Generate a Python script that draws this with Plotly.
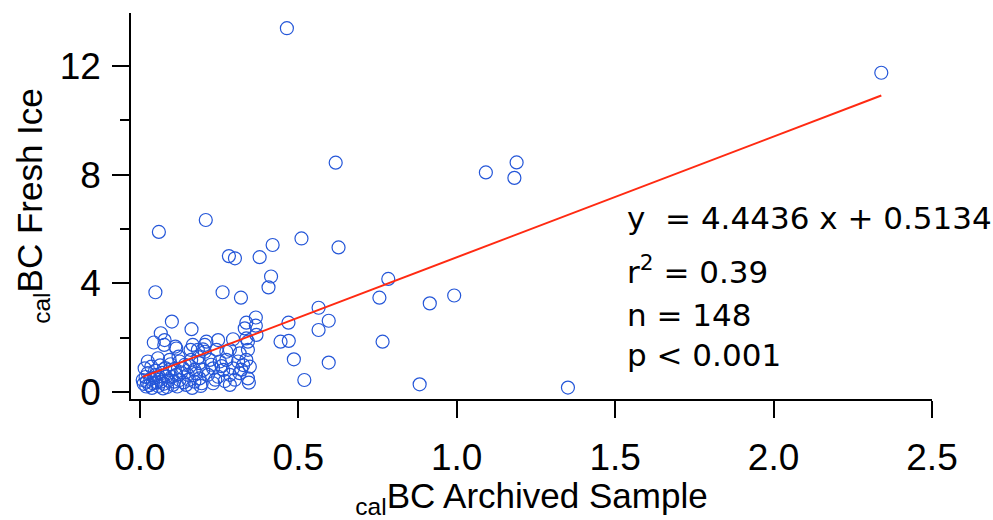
import plotly.graph_objects as go

# Archived sample (x) vs fresh ice (y) calBC values
x_archived = [
    0.464, 2.340, 0.618, 1.092, 1.189, 1.182, 0.060, 0.208, 0.281, 0.300,
    0.378, 0.419, 0.510, 0.627, 0.414, 0.406, 0.049, 0.261, 0.319, 0.784,
    0.756, 0.564, 0.596, 0.564, 0.469, 0.444, 0.470, 0.766, 0.486, 0.596,
    0.519, 0.915, 0.992, 0.883, 1.351, 0.101, 0.163, 0.066, 0.044, 0.077,
    0.366, 0.336, 0.331, 0.366, 0.368, 0.247, 0.294, 0.341, 0.205, 0.112,
    0.160, 0.199, 0.273, 0.341,
    0.078, 0.115, 0.167, 0.183, 0.025, 0.057, 0.094, 0.125, 0.162, 0.094,
    0.136, 0.172, 0.188, 0.009, 0.020, 0.041, 0.067, 0.073, 0.104, 0.125,
    0.146, 0.172, 0.025, 0.051, 0.083, 0.115, 0.151, 0.188, 0.036, 0.015,
    0.336, 0.210, 0.205, 0.242, 0.284, 0.315, 0.221, 0.252, 0.273, 0.310,
    0.336, 0.347, 0.326, 0.294, 0.263, 0.231, 0.200, 0.215, 0.247, 0.284,
    0.315, 0.341, 0.195, 0.231, 0.284, 0.344,
    0.012, 0.018, 0.022, 0.030, 0.033, 0.038, 0.045, 0.048, 0.053, 0.058,
    0.062, 0.064, 0.070, 0.075, 0.080, 0.086, 0.090, 0.097, 0.100, 0.108,
    0.110, 0.118, 0.122, 0.130, 0.138, 0.142, 0.155, 0.158, 0.165, 0.178,
    0.185, 0.192, 0.225, 0.238, 0.258, 0.268, 0.300, 0.320,
]
y_fresh = [
    13.39, 11.75, 8.44, 8.08, 8.45, 7.88, 5.89, 6.33, 5.00, 4.92,
    4.96, 5.41, 5.65, 5.32, 4.25, 3.85, 3.67, 3.67, 3.47, 4.16,
    3.47, 3.10, 2.62, 2.28, 2.55, 1.85, 1.88, 1.85, 1.20, 1.08,
    0.44, 3.26, 3.55, 0.28, 0.16, 2.59, 2.31, 2.16, 1.82, 1.73,
    2.74, 2.55, 2.34, 2.44, 2.10, 1.91, 1.94, 1.85, 1.73, 1.67,
    1.55, 1.57, 1.48, 1.55,
    1.91, 1.60, 1.73, 1.55, 1.12, 1.24, 1.18, 1.12, 1.18, 0.81,
    0.87, 0.81, 1.06, 0.44, 0.20, 0.32, 0.38, 0.13, 0.26, 0.44,
    0.26, 0.38, 0.69, 0.63, 0.56, 0.63, 0.63, 0.50, 0.93, 0.87,
    1.97, 1.85, 1.48, 1.55, 1.55, 1.42, 1.18, 1.12, 1.18, 1.12,
    1.18, 0.93, 0.99, 0.87, 0.81, 0.87, 0.81, 0.63, 0.56, 0.63,
    0.69, 0.50, 0.32, 0.32, 0.26, 0.34,
    0.30, 0.55, 0.38, 0.25, 0.48, 0.15, 0.52, 0.78, 0.35, 0.22,
    0.45, 0.98, 0.70, 0.30, 0.88, 0.18, 0.42, 1.02, 0.55, 0.38,
    0.85, 0.20, 1.30, 0.72, 0.35, 1.00, 0.45, 0.95, 0.15, 0.68,
    1.28, 0.22, 1.00, 0.45, 0.95, 0.40, 0.45, 0.82,
]

# Regression parameters (from the chart annotation)
slope = 4.4436
intercept = 0.5134
stats_lines = ["y  = 4.4436 x + 0.5134", "r<sup>2</sup> = 0.39", "n = 148", "p < 0.001"]

x_ticks = [0.0, 0.5, 1.0, 1.5, 2.0, 2.5]
x_tick_text = ["0.0", "0.5", "1.0", "1.5", "2.0", "2.5"]
y_ticks = [0, 4, 8, 12]

x_line = [min(x_archived), max(x_archived)]
y_line = [slope * v + intercept for v in x_line]

fig = go.Figure()
fig.add_trace(go.Scatter(
    x=x_archived, y=y_fresh, mode="markers",
    marker=dict(symbol="circle-open", size=13, color="#2456d8",
                line=dict(width=1.2, color="#2456d8")),
    showlegend=False, hoverinfo="x+y",
))
fig.add_trace(go.Scatter(
    x=x_line, y=y_line, mode="lines",
    line=dict(color="#ff2a12", width=2), showlegend=False,
))

ann_y = [6.40, 4.49, 2.83, 1.36]
for txt, yy in zip(stats_lines, ann_y):
    fig.add_annotation(x=1.532, y=yy, xref="x", yref="y", text=txt,
                       showarrow=False, xanchor="left", yanchor="middle",
                       font=dict(family="DejaVu Sans", size=31, color="black"))

fig.update_layout(
    width=993, height=520,
    margin=dict(l=131, r=61, t=13, b=121),
    plot_bgcolor="white", paper_bgcolor="white",
    font=dict(family="Liberation Sans", color="black"),
)
fig.update_xaxes(
    range=[-0.028, 2.5], showgrid=False, zeroline=False,
    showline=True, linecolor="black", linewidth=1.5,
    ticks="outside", ticklen=17, tickwidth=1.5, tickcolor="black",
    tickvals=x_ticks, ticktext=x_tick_text, ticklabelstandoff=8,
    tickfont=dict(family="Liberation Sans", size=37),
    title=dict(text="<sub>cal</sub>BC Archived Sample",
               font=dict(family="Liberation Sans", size=35), standoff=4),
)
fig.update_yaxes(
    range=[-0.26, 13.95], showgrid=False, zeroline=False,
    showline=True, linecolor="black", linewidth=1.5,
    ticks="outside", ticklen=17, tickwidth=1.5, tickcolor="black",
    tickvals=y_ticks, ticklabelstandoff=4,
    tickfont=dict(family="Liberation Sans", size=37),
    minor=dict(tickvals=[2, 6, 10], ticks="outside", ticklen=9,
               tickwidth=1.5, tickcolor="black", showgrid=False),
    title=dict(text="<sub>cal</sub>BC Fresh Ice",
               font=dict(family="Liberation Sans", size=35), standoff=6),
)

fig.write_html("out.html")
